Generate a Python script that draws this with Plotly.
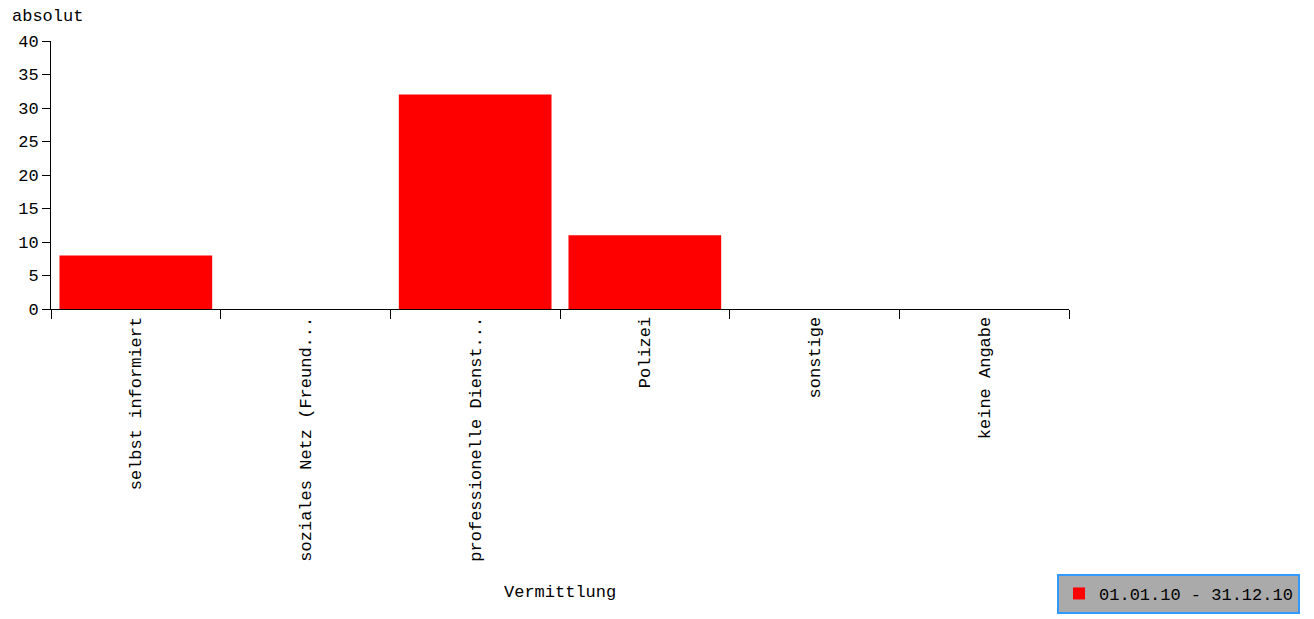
import plotly.graph_objects as go

categories = ["selbst informiert", "soziales Netz (Freund...", "professionelle Dienst...",
              "Polizei", "sonstige", "keine Angabe"]
values = [8, 0, 32, 11, 0, 0]
series_name = "01.01.10 - 31.12.10"
y_ticks = [0, 5, 10, 15, 20, 25, 30, 35, 40]
x_title = "Vermittlung"
y_title = "absolut"

FONT = "Liberation Mono"
fsize = 17

fig = go.Figure()
fig.add_trace(go.Bar(x=categories, y=values, name=series_name,
                     marker=dict(color="#ff0000", line=dict(width=0)),
                     width=0.9, showlegend=True))

fig.update_layout(
    width=1306, height=611,
    margin=dict(l=43, r=245, t=33, b=310, autoexpand=False),
    paper_bgcolor="white", plot_bgcolor="white",
    font=dict(family=FONT, size=fsize, color="black"),
    bargap=0.1,
    showlegend=True,
    legend=dict(xref="container", yref="container", x=0.9893, y=0.0738,
                xanchor="right", yanchor="top",
                bgcolor="#aaaaaa", bordercolor="#3399ff", borderwidth=2,
                font=dict(family=FONT, size=fsize, color="black"),
                itemwidth=30, tracegroupgap=0),
    xaxis=dict(type="category", showline=True, linecolor="black", linewidth=1,
               ticks="outside", tickson="boundaries", ticklen=9, tickcolor="black",
               tickangle=-90, showgrid=False, zeroline=False, automargin=False,
               tickfont=dict(family=FONT, size=fsize)),
    yaxis=dict(range=[0, 40], tickvals=y_ticks, showline=True, linecolor="black",
               linewidth=1, ticks="outside", ticklen=8, tickcolor="black",
               showgrid=False, zeroline=False, automargin=False,
               tickfont=dict(family=FONT, size=fsize)),
    annotations=[
        dict(text=x_title, xref="paper", yref="paper", x=0.5, y=-1.056,
             xanchor="center", yanchor="middle", showarrow=False,
             font=dict(family=FONT, size=fsize)),
        dict(text=y_title, xref="paper", yref="paper", x=-0.0403, y=1.093,
             xanchor="left", yanchor="middle", showarrow=False,
             font=dict(family=FONT, size=fsize)),
    ],
)

fig.write_html("out.html")
